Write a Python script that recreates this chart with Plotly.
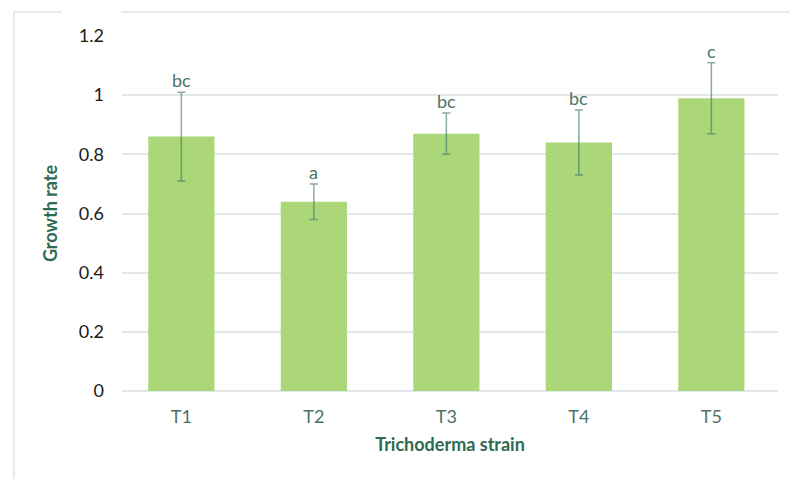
import plotly.graph_objects as go

# Growth rate per Trichoderma strain, with standard deviation and significance letters
strains = ["T1", "T2", "T3", "T4", "T5"]
growth_rate = [0.86, 0.64, 0.87, 0.84, 0.99]
error_plus = [0.15, 0.06, 0.07, 0.11, 0.12]
error_minus = [0.15, 0.06, 0.07, 0.11, 0.12]
letters = ["bc", "a", "bc", "bc", "c"]
y_ticks = [0, 0.2, 0.4, 0.6, 0.8, 1, 1.2]

BAR = "#acd779"
GRID = "#e0e8ea"
TEXT_GREEN = "#4b7467"
TITLE_GREEN = "#2f6a52"
FONT = "Lato"

W, H = 790, 479
ML, MR, MT, MB = 122, 12, 36, 88
pw, ph = W - ML - MR, H - MT - MB


def px_to_paper(x, y):
    return (x - ML) / pw, (H - MB - y) / ph


fig = go.Figure()
fig.add_trace(go.Bar(
    x=list(range(len(strains))),
    y=growth_rate,
    width=0.5,
    marker=dict(color=BAR, line=dict(width=0)),
    error_y=dict(
        type="data",
        symmetric=False,
        array=error_plus,
        arrayminus=error_minus,
        color="rgba(62,118,106,0.62)",
        thickness=1.5,
        width=4,
    ),
    hoverinfo="skip",
))

# significance letters above each error bar
for i, (v, e, t) in enumerate(zip(growth_rate, error_plus, letters)):
    fig.add_annotation(
        x=i, y=v + e, text=t, showarrow=False,
        xref="x", yref="y", yanchor="bottom", yshift=-1,
        font=dict(family=FONT, size=18, color=TEXT_GREEN),
    )

# outer chart frame (left and top edges)
x0, y0 = px_to_paper(14, 12)
_, yb = px_to_paper(14, 479)
xg1, _ = px_to_paper(62, 12)
xg2, _ = px_to_paper(121, 12)
xr, _ = px_to_paper(790, 12)
frame = dict(color="#dbe4e8", width=1.5)
fig.add_shape(type="line", xref="paper", yref="paper", x0=x0, y0=y0, x1=x0, y1=yb, line=frame)
fig.add_shape(type="line", xref="paper", yref="paper", x0=x0, y0=y0, x1=xg1, y1=y0, line=frame)
fig.add_shape(type="line", xref="paper", yref="paper", x0=xg2, y0=y0, x1=xr, y1=y0, line=frame)

fig.update_layout(
    width=W, height=H,
    margin=dict(l=ML, r=MR, t=MT, b=MB, pad=0),
    paper_bgcolor="white",
    plot_bgcolor="white",
    showlegend=False,
    font=dict(family=FONT),
    xaxis=dict(
        range=[-0.448, 4.503],
        tickmode="array",
        tickvals=list(range(len(strains))),
        ticktext=strains,
        tickfont=dict(family=FONT, size=18, color=TEXT_GREEN),
        showgrid=False,
        zeroline=False,
        showline=False,
        ticks="",
        ticklabelstandoff=13,
        title=dict(text="<b>Trichoderma strain</b>",
                   font=dict(family=FONT, size=18, color=TITLE_GREEN),
                   standoff=12),
    ),
    yaxis=dict(
        range=[0, 1.2],
        tickmode="array",
        tickvals=y_ticks,
        ticktext=["0", "0.2", "0.4", "0.6", "0.8", "1", "1.2"],
        tickfont=dict(family=FONT, size=18, color="#1a1a1a"),
        showgrid=True,
        gridcolor=GRID,
        gridwidth=1.5,
        zeroline=True,
        zerolinecolor=GRID,
        zerolinewidth=1.5,
        showline=False,
        ticks="",
        ticklabelstandoff=17,
        title=dict(text="<b>Growth rate</b>",
                   font=dict(family=FONT, size=18, color=TITLE_GREEN),
                   standoff=16),
    ),
)

fig.write_html("out.html")
